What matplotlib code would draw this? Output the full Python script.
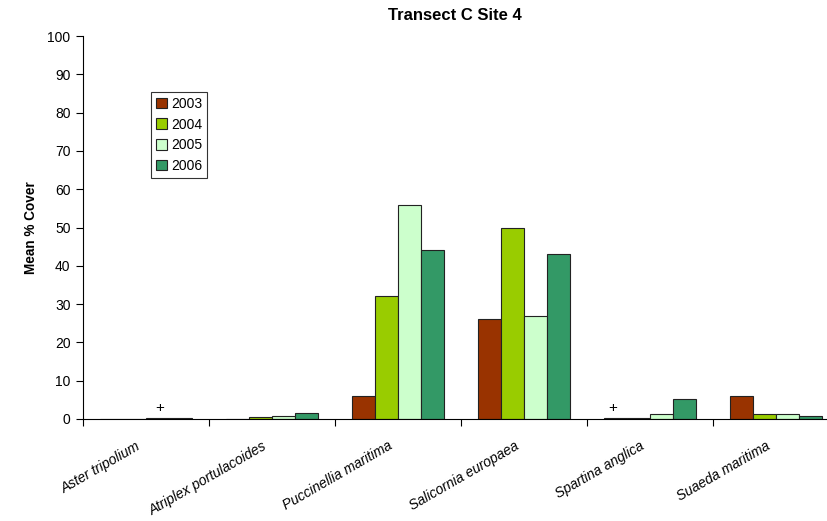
import matplotlib
matplotlib.use("Agg")
import matplotlib.pyplot as plt
import numpy as np

species = ["Aster tripolium", "Atriplex portulacoides", "Puccinellia maritima",
           "Salicornia europaea", "Spartina anglica", "Suaeda maritima"]
years = ["2003", "2004", "2005", "2006"]
v2003 = [0.0, 0.0, 6.0, 26.0, 0.2, 6.0]
v2004 = [0.0, 0.6, 32.0, 50.0, 0.2, 1.4]
v2005 = [0.2, 0.8, 56.0, 27.0, 1.4, 1.2]
v2006 = [0.3, 1.5, 44.0, 43.0, 5.1, 0.8]
colors = ["#993300", "#99CC00", "#CCFFCC", "#339966"]
plus_species = ["Aster tripolium", "Spartina anglica"]
plus_year = ["2005", "2003"]

plt.rcParams['font.family'] = ['Liberation Sans', 'DejaVu Sans']
fig = plt.figure(figsize=(8.28, 5.21), dpi=100)
ax = fig.add_axes([83/828, 1-419/521, 756/828, 383/521])

x = np.arange(len(species))
w = 0.73 / 4
series = [v2003, v2004, v2005, v2006]
for i, (vals, c) in enumerate(zip(series, colors)):
    ax.bar(x - 0.365 + w*(i+0.5), vals, width=w, color=c, edgecolor="#222222",
           linewidth=0.8, label=years[i])

plus_frac = [0.6, 0.36]
for s, yr, f in zip(plus_species, plus_year, plus_frac):
    xi = species.index(s)
    yi = years.index(yr)
    ax.text(xi - 0.365 + w*(yi+f), 1.0, "+", ha="center", va="bottom", fontsize=11)

ax.set_xlim(-0.5, len(species) - 0.5)
ax.set_ylim(0, 100)
ax.set_yticks(range(0, 101, 10))
ax.set_xticks(np.arange(-0.5, len(species), 1.0))
ax.set_xticklabels([])
ax.tick_params(axis='x', direction='out', length=5, width=0.8)
ax.tick_params(axis='y', direction='out', length=5, width=0.8, labelsize=10, pad=4)
for xi, s in enumerate(species):
    ax.text(xi - 0.08, -5.2, s, rotation=30, ha="right", va="top", style="italic",
            fontsize=10, rotation_mode="anchor", transform=ax.transData)
for sp in ["top", "right"]:
    ax.spines[sp].set_visible(False)
ax.spines["left"].set_linewidth(0.8)
ax.spines["bottom"].set_linewidth(0.8)

ax.set_ylabel("Mean % Cover", fontweight="bold", fontsize=9.8, labelpad=7)
fig.text(455/828, 1-15/521, "Transect C Site 4", ha="center", va="center",
         fontweight="bold", fontsize=12)

leg = ax.legend(loc="upper left", bbox_to_anchor=((151-83)/756, (419-92)/383), frameon=True,
                fancybox=False, edgecolor="black", fontsize=10, handlelength=0.8, handleheight=0.8,
                handletextpad=0.3, borderpad=0.35, labelspacing=0.48, borderaxespad=0)
leg.get_frame().set_linewidth(0.8)

fig.savefig("out.png", dpi=100)
